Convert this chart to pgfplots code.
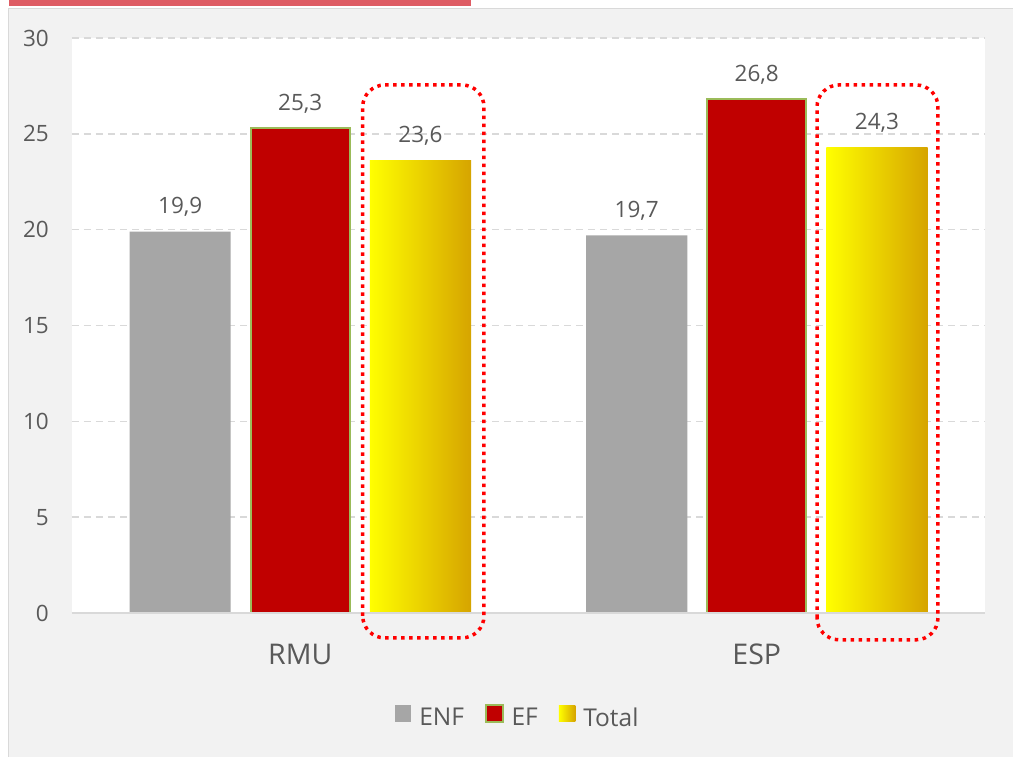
\documentclass[border=0pt]{standalone}
\usepackage{pgfplots}
\pgfplotsset{compat=1.18}
\usepackage{fontspec}
\setmainfont{Open Sans}
\definecolor{bgc}{HTML}{F2F2F2}
\definecolor{brd}{HTML}{D9D9D9}
\definecolor{txt}{HTML}{595959}
\definecolor{enf}{HTML}{A6A6A6}
\definecolor{ef}{HTML}{C00000}
\definecolor{efb}{HTML}{9BBB59}
\definecolor{gold}{HTML}{D6A400}
\definecolor{topred}{HTML}{DE5C64}
\begin{document}
\begin{tikzpicture}[x=1pt,y=1pt]
\path[use as bounding box] (0,0) rectangle (1013,757);
\fill[white] (0,0) rectangle (1013,757);
\fill[bgc] (8,0) rectangle (1013,749);
\draw[brd, line width=1.5pt] (8.5,0) -- (8.5,748.5) -- (1013,748.5);
\fill[topred] (9,750.5) rectangle (471,757);
\begin{axis}[
  at={(72pt,144pt)}, anchor=south west,
  scale only axis, width=913pt, height=575pt,
  xmin=-0.5, xmax=1.5, ymin=0, ymax=30,
  axis background/.style={fill=white},
  axis line style={draw=none},
  major tick length=0pt,
  xtick={0,1}, xticklabels={RMU,ESP},
  ytick={0,5,...,30},
  ymajorgrids,
  grid style={brd, line width=1.4pt, dash pattern=on 7pt off 5pt},
  /pgf/number format/assume math mode=true,
  /pgf/number format/use comma,
  /pgf/number format/fixed,
  /pgf/number format/fixed zerofill,
  /pgf/number format/precision=1,
  yticklabel={\pgfmathprintnumber[fixed,precision=0,fixed zerofill=false]{\tick}},
  yticklabel style={font=\fontsize{22.5}{27}\selectfont, text=txt, anchor=east, inner sep=0pt, xshift=-23pt},
  xticklabel style={font=\fontsize{28.5}{34}\selectfont, text=txt, anchor=base, inner sep=0pt, yshift=-52pt},
  nodes near coords,
  every node near coord/.append style={font=\fontsize{22.5}{27}\selectfont, text=txt, anchor=base, inner sep=0pt, yshift=18pt},
  clip=false,
  legend style={at={(0.487,-0.179)}, anchor=center, draw=none, fill=none,
    legend columns=3, font=\fontsize{24.5}{30}\selectfont, text=txt,
    nodes={inner sep=0pt},
    /tikz/every odd column/.append style={column sep=8pt},
    /tikz/every even column/.append style={column sep=21pt}},
  legend image code/.code={\path[#1] (0pt,-4pt) rectangle (16.5pt,12.5pt);},
]
\addplot[ybar, bar width=0.2215, bar shift=0pt, fill=enf, draw=none]
  coordinates {(-0.263,19.9) (0.737,19.7)};
\addlegendentry{ENF}
\addplot[ybar, bar width=0.2175, bar shift=0pt, fill=ef, draw=efb, line width=2pt]
  coordinates {(0,25.3) (1,26.8)};
\addlegendentry{EF}
\addplot[ybar, bar width=0.2215, bar shift=0pt, left color=yellow, right color=gold, draw=none]
  coordinates {(0.2635,23.6)};
\addlegendentry{Total}
\addplot[ybar, bar width=0.2215, bar shift=0pt, left color=yellow, right color=gold, draw=none, forget plot]
  coordinates {(1.2635,24.3)};
\draw[brd, line width=1.5pt] (rel axis cs:0,0) -- (rel axis cs:1,0);
\draw[red, line width=3.5pt, dash pattern=on 3.5pt off 4.5pt, rounded corners=22pt]
  (axis cs:0.1368,-1.3) rectangle (axis cs:0.4025,27.55);
\draw[red, line width=3.5pt, dash pattern=on 3.5pt off 4.5pt, rounded corners=22pt]
  (axis cs:1.132,-1.4) rectangle (axis cs:1.397,27.55);
\end{axis}
\end{tikzpicture}
\end{document}
